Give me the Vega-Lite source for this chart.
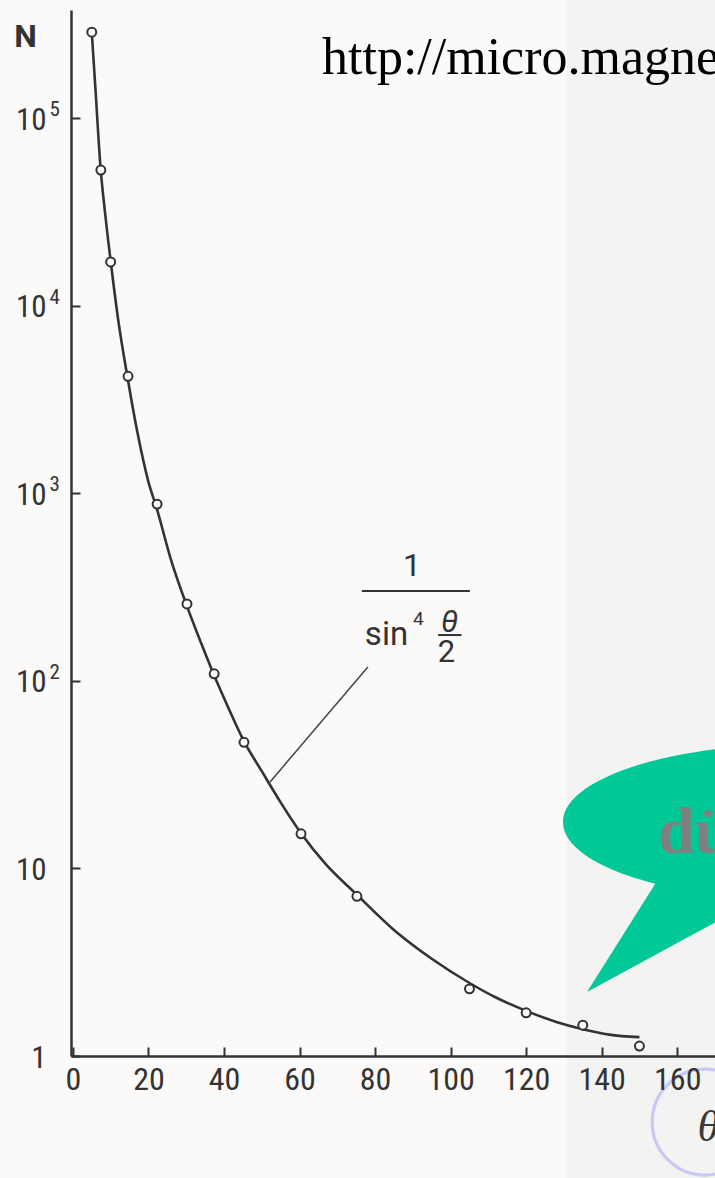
{
  "$schema": "https://vega.github.io/schema/vega-lite/v6.json",
  "width": 644,
  "height": 1046,
  "autosize": {"type": "none"},
  "padding": {"left": 71, "top": 10, "right": 0, "bottom": 122},
  "background": "#fbfaf8",
  "config": {"view": {"stroke": null}, "font": "Roboto"},
  "datasets": {
    "curve": [
      {"theta": 5, "N": 287000}, {"theta": 6, "N": 140000}, {"theta": 7.3, "N": 55000},
      {"theta": 8.5, "N": 31500}, {"theta": 10, "N": 17300}, {"theta": 12, "N": 8400},
      {"theta": 14.5, "N": 4100}, {"theta": 17, "N": 2150}, {"theta": 20, "N": 1150},
      {"theta": 22.2, "N": 830}, {"theta": 26, "N": 440}, {"theta": 30.2, "N": 250},
      {"theta": 34, "N": 158}, {"theta": 37.3, "N": 108}, {"theta": 41, "N": 73},
      {"theta": 45.2, "N": 48}, {"theta": 50, "N": 33}, {"theta": 55, "N": 22.5},
      {"theta": 60.3, "N": 15.5}, {"theta": 67, "N": 10.5}, {"theta": 75, "N": 7.3},
      {"theta": 85, "N": 4.7}, {"theta": 95, "N": 3.3}, {"theta": 105, "N": 2.45},
      {"theta": 112, "N": 2.05}, {"theta": 120, "N": 1.74}, {"theta": 128, "N": 1.52},
      {"theta": 135, "N": 1.39}, {"theta": 142, "N": 1.3}, {"theta": 150, "N": 1.26}
    ],
    "measured": [
      {"theta": 5, "N": 287000}, {"theta": 7.4, "N": 52800}, {"theta": 10, "N": 17100},
      {"theta": 14.6, "N": 4200}, {"theta": 22.3, "N": 875}, {"theta": 30.2, "N": 257},
      {"theta": 37.4, "N": 109}, {"theta": 45.3, "N": 47}, {"theta": 60.4, "N": 15.3},
      {"theta": 75.2, "N": 7.1}, {"theta": 105, "N": 2.28}, {"theta": 120, "N": 1.7},
      {"theta": 135, "N": 1.46}, {"theta": 150, "N": 1.13}
    ],
    "decades": [
      {"N": 100, "e": "2"}, {"N": 1000, "e": "3"}, {"N": 10000, "e": "4"}, {"N": 100000, "e": "5"}
    ]
  },
  "layer": [
    {
      "data": {"values": [{}]},
      "mark": {"type": "rect", "color": "#f3f3f2"},
      "encoding": {
        "x": {"datum": 130.8, "type": "quantitative", "scale": {"domain": [-0.5, 170], "nice": false, "zero": false}},
        "x2": {"datum": 200},
        "y": {"datum": 10000000, "type": "quantitative", "scale": {"type": "log", "domain": [1, 376700], "nice": false}},
        "y2": {"datum": 0.01}
      }
    },
    {
      "data": {"name": "curve"},
      "mark": {"type": "line", "interpolate": "monotone", "color": "#333333", "strokeWidth": 2.6},
      "encoding": {
        "x": {
          "field": "theta", "type": "quantitative",
          "scale": {"domain": [-0.5, 170], "nice": false, "zero": false},
          "axis": {
            "zindex": 1,
            "values": [0, 20, 40, 60, 80, 100, 120, 140, 160],
            "grid": false, "labelFlush": false, "labelOverlap": false,
            "tickSize": -9, "tickWidth": 2, "tickColor": "#333333",
            "domainColor": "#333333", "domainWidth": 2.5,
            "labelFont": "Liberation Sans Narrow, Roboto Condensed, DejaVu Sans Condensed, sans-serif",
            "labelFontSize": 32, "labelPadding": 17, "labelColor": "#333333",
            "title": "θ", "titleFont": "Liberation Serif", "titleFontStyle": "italic",
            "titleFontWeight": "normal", "titleFontSize": 44, "titleColor": "#3a3a3a",
            "titleX": 626, "titleY": 84, "titleAlign": "left", "titleBaseline": "alphabetic"
          }
        },
        "y": {
          "field": "N", "type": "quantitative",
          "scale": {"type": "log", "domain": [1, 376700], "nice": false},
          "axis": {
            "zindex": 1,
            "values": [1, 10, 100, 1000, 10000, 100000],
            "labelExpr": "datum.value == 1 ? '1' : '10'",
            "grid": false, "labelOverlap": false,
            "tickSize": -9, "tickWidth": 2, "tickColor": "#333333",
            "domainColor": "#333333", "domainWidth": 2.5,
            "labelFont": "Liberation Sans Narrow, Roboto Condensed, DejaVu Sans Condensed, sans-serif",
            "labelFontSize": 31, "labelPadding": 34, "labelOffset": 2, "labelColor": "#333333",
            "title": "N", "titleAngle": 0, "titleX": -46, "titleY": 26,
            "titleAlign": "center", "titleBaseline": "middle",
            "titleFont": "Roboto", "titleFontWeight": "bold", "titleFontSize": 32, "titleColor": "#333333"
          }
        }
      }
    },
    {
      "data": {"name": "measured"},
      "mark": {"type": "point", "shape": "circle", "filled": true, "fill": "#fbfaf8", "stroke": "#333333", "strokeWidth": 2, "size": 80, "opacity": 1},
      "encoding": {
        "x": {"field": "theta", "type": "quantitative", "scale": {"domain": [-0.5, 170], "nice": false, "zero": false}},
        "y": {"field": "N", "type": "quantitative", "scale": {"type": "log", "domain": [1, 376700], "nice": false}}
      }
    },
    {
      "data": {"name": "decades"},
      "mark": {"type": "text", "align": "left", "baseline": "alphabetic", "dy": -2, "fontSize": 21, "color": "#333333",
               "font": "Liberation Sans Narrow, Roboto Condensed, DejaVu Sans Condensed, sans-serif"},
      "encoding": {
        "x": {"datum": -6.2, "type": "quantitative", "scale": {"domain": [-0.5, 170], "nice": false, "zero": false}},
        "y": {"field": "N", "type": "quantitative", "scale": {"type": "log", "domain": [1, 376700], "nice": false}},
        "text": {"field": "e"}
      }
    },
    {
      "data": {"values": [{}]},
      "mark": {"type": "rule", "color": "#444444", "strokeWidth": 1.5},
      "encoding": {
        "x": {"datum": 52.2, "type": "quantitative", "scale": {"domain": [-0.5, 170], "nice": false, "zero": false}},
        "y": {"datum": 28.9, "type": "quantitative", "scale": {"type": "log", "domain": [1, 376700], "nice": false}},
        "x2": {"datum": 78.1},
        "y2": {"datum": 118.5}
      }
    },
    {
      "data": {"values": [{}]},
      "mark": {"type": "rule", "color": "#333333", "strokeWidth": 2},
      "encoding": {
        "x": {"datum": 76.5, "type": "quantitative", "scale": {"domain": [-0.5, 170], "nice": false, "zero": false}},
        "x2": {"datum": 105.1},
        "y": {"datum": 301, "type": "quantitative", "scale": {"type": "log", "domain": [1, 376700], "nice": false}}
      }
    },
    {
      "data": {"values": [{}]},
      "mark": {"type": "rule", "color": "#333333", "strokeWidth": 2},
      "encoding": {
        "x": {"datum": 96.7, "type": "quantitative", "scale": {"domain": [-0.5, 170], "nice": false, "zero": false}},
        "x2": {"datum": 102.9},
        "y": {"datum": 175.4, "type": "quantitative", "scale": {"type": "log", "domain": [1, 376700], "nice": false}}
      }
    },
    {
      "data": {"values": [{}]},
      "mark": {"type": "text", "align": "center", "baseline": "alphabetic", "fontSize": 32, "color": "#333333",
               "font": "Roboto, sans-serif"},
      "encoding": {
        "x": {"datum": 89.8, "type": "quantitative", "scale": {"domain": [-0.5, 170], "nice": false, "zero": false}},
        "y": {"datum": 362, "type": "quantitative", "scale": {"type": "log", "domain": [1, 376700], "nice": false}},
        "text": {"value": "1"}
      }
    },
    {
      "data": {"values": [{}]},
      "mark": {"type": "text", "align": "left", "baseline": "alphabetic", "fontSize": 33, "color": "#333333",
               "font": "Roboto, sans-serif"},
      "encoding": {
        "x": {"datum": 77.3, "type": "quantitative", "scale": {"domain": [-0.5, 170], "nice": false, "zero": false}},
        "y": {"datum": 155.2, "type": "quantitative", "scale": {"type": "log", "domain": [1, 376700], "nice": false}},
        "text": {"value": "sin"}
      }
    },
    {
      "data": {"values": [{}]},
      "mark": {"type": "text", "align": "left", "baseline": "alphabetic", "fontSize": 19, "color": "#333333",
               "font": "Roboto, sans-serif"},
      "encoding": {
        "x": {"datum": 90.05, "type": "quantitative", "scale": {"domain": [-0.5, 170], "nice": false, "zero": false}},
        "y": {"datum": 198.4, "type": "quantitative", "scale": {"type": "log", "domain": [1, 376700], "nice": false}},
        "text": {"value": "4"}
      }
    },
    {
      "data": {"values": [{}]},
      "mark": {"type": "text", "align": "center", "baseline": "alphabetic", "fontSize": 31, "fontStyle": "italic", "color": "#333333",
               "font": "Roboto, sans-serif"},
      "encoding": {
        "x": {"datum": 99.7, "type": "quantitative", "scale": {"domain": [-0.5, 170], "nice": false, "zero": false}},
        "y": {"datum": 182, "type": "quantitative", "scale": {"type": "log", "domain": [1, 376700], "nice": false}},
        "text": {"value": "θ"}
      }
    },
    {
      "data": {"values": [{}]},
      "mark": {"type": "text", "align": "center", "baseline": "alphabetic", "fontSize": 31, "color": "#333333",
               "font": "Roboto, sans-serif"},
      "encoding": {
        "x": {"datum": 98.9, "type": "quantitative", "scale": {"domain": [-0.5, 170], "nice": false, "zero": false}},
        "y": {"datum": 126, "type": "quantitative", "scale": {"type": "log", "domain": [1, 376700], "nice": false}},
        "text": {"value": "2"}
      }
    },
    {
      "data": {"values": [{}]},
      "mark": {"type": "text", "align": "left", "baseline": "alphabetic", "fontSize": 52, "color": "#000000",
               "font": "Liberation Serif, Times New Roman, serif"},
      "encoding": {
        "x": {"datum": 65.95, "type": "quantitative", "scale": {"domain": [-0.5, 170], "nice": false, "zero": false}},
        "y": {"datum": 171600, "type": "quantitative", "scale": {"type": "log", "domain": [1, 376700], "nice": false}},
        "text": {"value": "http://micro.magnet.fsu.edu"}
      }
    },
    {
      "data": {"values": [{}]},
      "mark": {
        "type": "point", "filled": true, "fill": "#00c896", "strokeWidth": 0, "opacity": 1, "size": 40000,
        "shape": "M -1.37 -0.38 C -1.37 0.05 -0.309 0.4 1.0 0.4 C 2.309 0.4 3.37 0.05 3.37 -0.38 C 3.37 -0.811 2.309 -1.16 1.0 -1.16 C -0.309 -1.16 -1.37 -0.811 -1.37 -0.38 Z M -0.43 0.21 L -1.13 1.32 L 0.6 0.38 Z"
      },
      "encoding": {
        "x": {"datum": 166.03, "type": "quantitative", "scale": {"domain": [-0.5, 170], "nice": false, "zero": false}},
        "y": {"datum": 11.09, "type": "quantitative", "scale": {"type": "log", "domain": [1, 376700], "nice": false}}
      }
    },
    {
      "data": {"values": [{}]},
      "mark": {"type": "text", "align": "left", "baseline": "alphabetic", "fontSize": 66, "fontWeight": "bold", "color": "#808080",
               "font": "Liberation Serif, Times New Roman, serif"},
      "encoding": {
        "x": {"datum": 154.9, "type": "quantitative", "scale": {"domain": [-0.5, 170], "nice": false, "zero": false}},
        "y": {"datum": 12.08, "type": "quantitative", "scale": {"type": "log", "domain": [1, 376700], "nice": false}},
        "text": {"value": "dü"}
      }
    },
    {
      "data": {"values": [{}]},
      "mark": {"type": "point", "shape": "circle", "filled": false, "stroke": "#c8c8f6", "strokeWidth": 3.2, "size": 11236, "opacity": 1},
      "encoding": {
        "x": {"datum": 167.4, "type": "quantitative", "scale": {"domain": [-0.5, 170], "nice": false, "zero": false}},
        "y": {"datum": 0.4446, "type": "quantitative", "scale": {"type": "log", "domain": [1, 376700], "nice": false}}
      }
    }
  ]
}
